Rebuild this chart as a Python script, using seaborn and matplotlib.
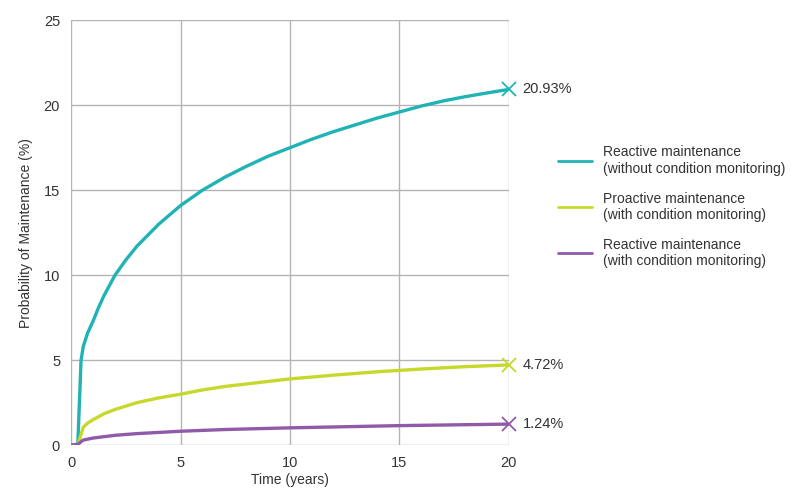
import matplotlib
matplotlib.use("Agg")
import matplotlib.pyplot as plt
import seaborn as sns
import pandas as pd

# values
reactive_x = [0, 0.3, 0.45, 0.55, 0.75, 1.0, 1.25, 1.5, 2, 2.5, 3, 4, 5, 6, 7, 8, 9, 10,
              11, 12, 13, 14, 15, 16, 17, 18, 19, 20]
reactive_y = [0, 0, 5.0, 5.8, 6.6, 7.3, 8.1, 8.8, 10.0, 10.9, 11.7, 13.0, 14.1, 15.0, 15.75,
              16.4, 17.0, 17.5, 18.0, 18.45, 18.85, 19.25, 19.6, 19.95, 20.25, 20.5, 20.72, 20.93]

proactive_x = [0, 0.3, 0.55, 0.75, 1, 1.5, 2, 3, 4, 5, 6, 7, 8, 10, 12, 14, 16, 18, 20]
proactive_y = [0, 0, 1.05, 1.3, 1.5, 1.85, 2.1, 2.5, 2.78, 3.0, 3.25, 3.45, 3.6, 3.9, 4.12,
               4.32, 4.48, 4.62, 4.72]

reactive_cm_x = [0, 0.3, 0.55, 1, 2, 3, 5, 7, 10, 15, 20]
reactive_cm_y = [0, 0.05, 0.3, 0.42, 0.58, 0.68, 0.82, 0.92, 1.02, 1.15, 1.24]

labels = ["Reactive maintenance\n(without condition monitoring)",
          "Proactive maintenance\n(with condition monitoring)",
          "Reactive maintenance\n(with condition monitoring)"]
end_labels = ["20.93%", "4.72%", "1.24%"]
colors = ["#20b3b5", "#c6d92b", "#8f5ba8"]

sns.set_theme(style="white")
plt.rcParams["font.family"] = ["Liberation Sans", "DejaVu Sans"]

fig = plt.figure(figsize=(8, 4.93), dpi=100)
ax = fig.add_axes([0.089, 0.097, 0.547, 0.862])

series = [(reactive_x, reactive_y), (proactive_x, proactive_y), (reactive_cm_x, reactive_cm_y)]
for (xs, ys), lab, col, end in zip(series, labels, colors, end_labels):
    df = pd.DataFrame({"t": xs, "p": ys})
    sns.lineplot(data=df, x="t", y="p", ax=ax, color=col, linewidth=2.4, label=lab)
    ax.plot(xs[-1], ys[-1], marker="x", color=col, markersize=10, mew=1.3, clip_on=False)
    ax.annotate(end, (xs[-1], ys[-1]), xytext=(10, 0), textcoords="offset points",
                va="center", ha="left", fontsize=10.5, color="#333333", annotation_clip=False)

ax.set_xlim(0, 20)
ax.set_ylim(0, 25)
ax.set_xticks([0, 5, 10, 15, 20])
ax.set_yticks([0, 5, 10, 15, 20, 25])
ax.grid(True, color="#b4b4b4", linewidth=1)
for s in ax.spines.values():
    s.set_visible(False)
ax.tick_params(axis="both", length=0, labelsize=10.5, colors="#333333", pad=8)
ax.set_xlabel("Time (years)", fontsize=10, color="#333333", labelpad=2)
ax.set_ylabel("Probability of Maintenance (%)", fontsize=10, color="#333333", labelpad=8)

leg = ax.legend(loc="upper left", bbox_to_anchor=(1.085, 0.735), frameon=False,
                fontsize=10, handlelength=2.4, labelspacing=1.15, handletextpad=0.8)
for t in leg.get_texts():
    t.set_color("#333333")
for h in leg.get_lines():
    h.set_linewidth(2.0)

fig.savefig("out.png", dpi=100)
